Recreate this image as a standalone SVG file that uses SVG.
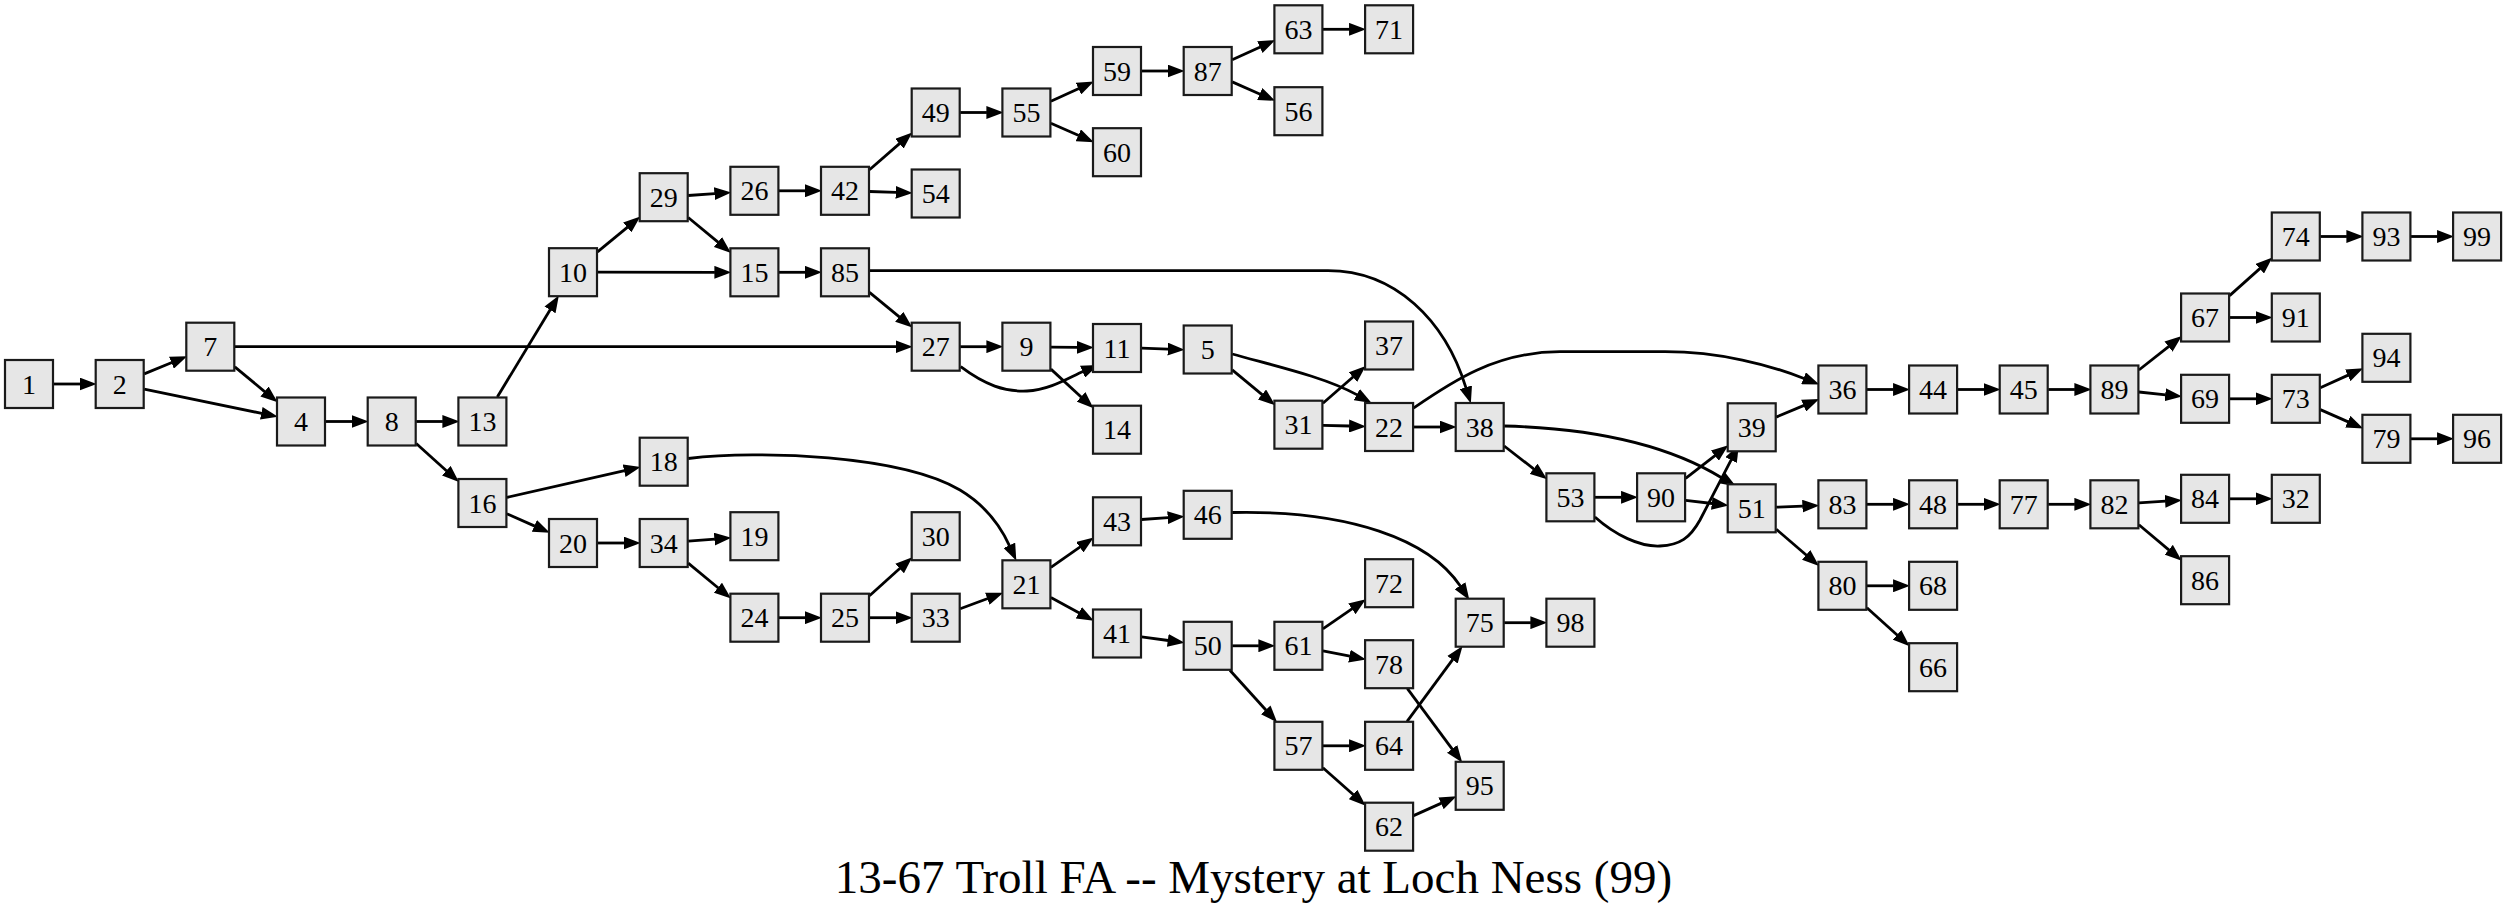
<svg xmlns="http://www.w3.org/2000/svg" width="2507" height="915" viewBox="0 0 2507 915">
<style>
.node rect{fill:#e6e6e6;stroke:#1a1a1a;stroke-width:2.2}
.node text{font-family:"Liberation Serif","Times New Roman",serif;font-size:28px;text-anchor:middle;fill:#000}
#edges path{fill:none;stroke:#000;stroke-width:2.8;marker-end:url(#ah)}
.title{font-family:"Liberation Serif","Times New Roman",serif;font-size:47px;text-anchor:middle;fill:#000}
</style>
<defs>
<marker id="ah" markerUnits="userSpaceOnUse" markerWidth="17" markerHeight="13" viewBox="0 0 16.5 12.5" refX="0.5" refY="6.25" orient="auto"><path d="M0,0 L16.5,6.25 L0,12.5 z" fill="#000"/></marker>
</defs>
<rect width="2507" height="915" fill="#fff"/>
<g id="edges">
<path d="M53.5,384 L80.2,384"/>
<path d="M144.2,373.9 L171.9,362.5"/>
<path d="M144.2,389.1 L261.8,413.4"/>
<path d="M234.8,366.9 L264.9,391.8"/>
<path d="M234.8,346.7 L896.2,346.7"/>
<path d="M325.5,421.5 L352.2,421.5"/>
<path d="M416.2,421.5 L442.9,421.5"/>
<path d="M416.2,443.5 L446.7,471"/>
<path d="M497.3,397 L550.3,309.5"/>
<path d="M597.5,251.9 L627.6,227.1"/>
<path d="M597.5,272.2 L714.9,272.3"/>
<path d="M688.2,195.5 L714.9,193.6"/>
<path d="M688.2,217.5 L718.3,242.4"/>
<path d="M778.9,190.8 L805.5,190.8"/>
<path d="M869.5,169.7 L899.8,143.4"/>
<path d="M869.5,191.5 L896.2,192.4"/>
<path d="M960.2,112.5 L986.9,112.5"/>
<path d="M1050.9,101.3 L1078.9,88.4"/>
<path d="M1050.9,123.2 L1078.8,135.5"/>
<path d="M1141.5,71 L1168.2,71"/>
<path d="M1232.2,59.7 L1260.3,46.9"/>
<path d="M1232.2,81.9 L1260.2,94.2"/>
<path d="M1322.9,29.3 L1349.6,29.3"/>
<path d="M778.9,272.3 L805.5,272.3"/>
<path d="M869.5,292.4 L899.6,317.1"/>
<path d="M869.5,270.7 L1328,270.7 C1395,270.7 1445,320 1466,387.8"/>
<path d="M960.2,346.7 L986.9,346.7"/>
<path d="M960.7,366.7 C985,385 1005,392 1027,391 C1050,390 1070,377 1083,371.5"/>
<path d="M1050.9,347.1 L1077.5,347.4"/>
<path d="M1050.9,369.1 L1081.4,397.2"/>
<path d="M1141.5,348.2 L1168.2,349.1"/>
<path d="M1232.2,354 C1275,366 1325,377 1357.2,394.9"/>
<path d="M1232.2,369.8 L1262.4,394.8"/>
<path d="M1322.9,403.3 L1353.3,376.8"/>
<path d="M1322.9,425.3 L1349.6,426"/>
<path d="M1413.6,408 C1450,383 1495,351.7 1560,351.7 L1665,351.7 C1720,351.7 1770,365 1804,378.5"/>
<path d="M1413.6,427 L1440.2,427"/>
<path d="M1504.2,446 L1534,469.1"/>
<path d="M1504.2,426 C1580,428 1660,440 1722,478"/>
<path d="M1594.9,497.3 L1621.6,497.3"/>
<path d="M1594.9,517 C1615,535 1640,547 1660,546 C1680,545 1690,538 1700,520 L1731.3,459.6"/>
<path d="M1685.6,478.4 L1715.3,455.4"/>
<path d="M1685.6,500.3 L1712.3,503.5"/>
<path d="M1776.2,417.1 L1804.1,405.4"/>
<path d="M1866.9,389.5 L1893.6,389.5"/>
<path d="M1957.6,389.5 L1984.2,389.5"/>
<path d="M2048.2,389.5 L2074.9,389.5"/>
<path d="M2138.9,370 L2168.9,346.3"/>
<path d="M2138.9,392 L2165.7,394.8"/>
<path d="M2229.6,295.6 L2260.1,268.4"/>
<path d="M2229.6,317.5 L2256.3,317.5"/>
<path d="M2320.3,236.5 L2346.9,236.5"/>
<path d="M2410.9,236.5 L2437.6,236.5"/>
<path d="M2229.6,398.8 L2256.3,398.8"/>
<path d="M2320.3,387.7 L2348.2,375.1"/>
<path d="M2320.3,409.6 L2348.2,421.9"/>
<path d="M2410.9,438.8 L2437.6,438.8"/>
<path d="M1776.2,507.2 L1802.9,506.1"/>
<path d="M1776.2,529.2 L1806.5,555.2"/>
<path d="M1866.9,504.3 L1893.6,504.3"/>
<path d="M1957.6,504.3 L1984.2,504.3"/>
<path d="M2048.2,504.3 L2074.9,504.3"/>
<path d="M2138.9,502.8 L2165.6,501.2"/>
<path d="M2138.9,524.8 L2169.1,550.1"/>
<path d="M2229.6,498.8 L2256.3,498.8"/>
<path d="M1866.9,585.8 L1893.6,585.8"/>
<path d="M1866.9,607.8 L1897.4,635.2"/>
<path d="M506.9,497.4 L624.6,470.6"/>
<path d="M506.9,513.8 L534.8,526.1"/>
<path d="M688.2,458.5 C760,450 900,455 960,490 C985,505 1000,525 1009.5,545.8"/>
<path d="M597.5,543 L624.2,543"/>
<path d="M688.2,541.2 L714.9,539.1"/>
<path d="M688.2,563.2 L718.3,588"/>
<path d="M778.9,617.7 L805.5,617.7"/>
<path d="M869.5,595.7 L900,568.2"/>
<path d="M869.5,617.7 L896.2,617.7"/>
<path d="M960.2,608.7 L987.8,598.5"/>
<path d="M1050.9,567.3 L1080.2,546.9"/>
<path d="M1050.9,597.6 L1079.3,613"/>
<path d="M1141.5,519.5 L1168.2,517.6"/>
<path d="M1141.5,636.8 L1168.3,640.5"/>
<path d="M1232.2,645.8 L1258.9,645.8"/>
<path d="M1229.9,670.3 L1266.1,710.2"/>
<path d="M1322.9,628.9 L1352.3,608.6"/>
<path d="M1322.9,650.8 L1349.9,656.2"/>
<path d="M1407.4,688.7 L1452.4,749.3"/>
<path d="M1322.9,745.8 L1349.6,745.8"/>
<path d="M1322.9,767.7 L1353.4,794.8"/>
<path d="M1407.1,721.3 L1452.8,659.3"/>
<path d="M1413.6,815.6 L1441.5,803.1"/>
<path d="M1504.2,622.7 L1530.9,622.7"/>
<path d="M1232.2,512.5 C1350,510 1430,540 1460.3,586.1"/>
</g>
<g id="n1" class="node" transform="translate(29,384)"><rect x="-24" y="-24" width="48" height="48"/><text y="9.5">1</text></g>
<g id="n2" class="node" transform="translate(119.7,384)"><rect x="-24" y="-24" width="48" height="48"/><text y="9.5">2</text></g>
<g id="n7" class="node" transform="translate(210.3,346.7)"><rect x="-24" y="-24" width="48" height="48"/><text y="9.5">7</text></g>
<g id="n4" class="node" transform="translate(301,421.5)"><rect x="-24" y="-24" width="48" height="48"/><text y="9.5">4</text></g>
<g id="n8" class="node" transform="translate(391.7,421.5)"><rect x="-24" y="-24" width="48" height="48"/><text y="9.5">8</text></g>
<g id="n13" class="node" transform="translate(482.4,421.5)"><rect x="-24" y="-24" width="48" height="48"/><text y="9.5">13</text></g>
<g id="n16" class="node" transform="translate(482.4,503)"><rect x="-24" y="-24" width="48" height="48"/><text y="9.5">16</text></g>
<g id="n10" class="node" transform="translate(573,272.2)"><rect x="-24" y="-24" width="48" height="48"/><text y="9.5">10</text></g>
<g id="n20" class="node" transform="translate(573,543)"><rect x="-24" y="-24" width="48" height="48"/><text y="9.5">20</text></g>
<g id="n29" class="node" transform="translate(663.7,197.2)"><rect x="-24" y="-24" width="48" height="48"/><text y="9.5">29</text></g>
<g id="n18" class="node" transform="translate(663.7,461.7)"><rect x="-24" y="-24" width="48" height="48"/><text y="9.5">18</text></g>
<g id="n34" class="node" transform="translate(663.7,543)"><rect x="-24" y="-24" width="48" height="48"/><text y="9.5">34</text></g>
<g id="n26" class="node" transform="translate(754.4,190.8)"><rect x="-24" y="-24" width="48" height="48"/><text y="9.5">26</text></g>
<g id="n15" class="node" transform="translate(754.4,272.3)"><rect x="-24" y="-24" width="48" height="48"/><text y="9.5">15</text></g>
<g id="n19" class="node" transform="translate(754.4,536.2)"><rect x="-24" y="-24" width="48" height="48"/><text y="9.5">19</text></g>
<g id="n24" class="node" transform="translate(754.4,617.7)"><rect x="-24" y="-24" width="48" height="48"/><text y="9.5">24</text></g>
<g id="n42" class="node" transform="translate(845,190.8)"><rect x="-24" y="-24" width="48" height="48"/><text y="9.5">42</text></g>
<g id="n85" class="node" transform="translate(845,272.3)"><rect x="-24" y="-24" width="48" height="48"/><text y="9.5">85</text></g>
<g id="n25" class="node" transform="translate(845,617.7)"><rect x="-24" y="-24" width="48" height="48"/><text y="9.5">25</text></g>
<g id="n49" class="node" transform="translate(935.7,112.5)"><rect x="-24" y="-24" width="48" height="48"/><text y="9.5">49</text></g>
<g id="n54" class="node" transform="translate(935.7,193.5)"><rect x="-24" y="-24" width="48" height="48"/><text y="9.5">54</text></g>
<g id="n27" class="node" transform="translate(935.7,346.7)"><rect x="-24" y="-24" width="48" height="48"/><text y="9.5">27</text></g>
<g id="n30" class="node" transform="translate(935.7,536.2)"><rect x="-24" y="-24" width="48" height="48"/><text y="9.5">30</text></g>
<g id="n33" class="node" transform="translate(935.7,617.7)"><rect x="-24" y="-24" width="48" height="48"/><text y="9.5">33</text></g>
<g id="n55" class="node" transform="translate(1026.4,112.5)"><rect x="-24" y="-24" width="48" height="48"/><text y="9.5">55</text></g>
<g id="n9" class="node" transform="translate(1026.4,346.7)"><rect x="-24" y="-24" width="48" height="48"/><text y="9.5">9</text></g>
<g id="n21" class="node" transform="translate(1026.4,584.3)"><rect x="-24" y="-24" width="48" height="48"/><text y="9.5">21</text></g>
<g id="n59" class="node" transform="translate(1117,71)"><rect x="-24" y="-24" width="48" height="48"/><text y="9.5">59</text></g>
<g id="n60" class="node" transform="translate(1117,152.2)"><rect x="-24" y="-24" width="48" height="48"/><text y="9.5">60</text></g>
<g id="n11" class="node" transform="translate(1117,348)"><rect x="-24" y="-24" width="48" height="48"/><text y="9.5">11</text></g>
<g id="n14" class="node" transform="translate(1117,429.7)"><rect x="-24" y="-24" width="48" height="48"/><text y="9.5">14</text></g>
<g id="n43" class="node" transform="translate(1117,521.3)"><rect x="-24" y="-24" width="48" height="48"/><text y="9.5">43</text></g>
<g id="n41" class="node" transform="translate(1117,633.5)"><rect x="-24" y="-24" width="48" height="48"/><text y="9.5">41</text></g>
<g id="n87" class="node" transform="translate(1207.7,71)"><rect x="-24" y="-24" width="48" height="48"/><text y="9.5">87</text></g>
<g id="n5" class="node" transform="translate(1207.7,349.5)"><rect x="-24" y="-24" width="48" height="48"/><text y="9.5">5</text></g>
<g id="n46" class="node" transform="translate(1207.7,514.8)"><rect x="-24" y="-24" width="48" height="48"/><text y="9.5">46</text></g>
<g id="n50" class="node" transform="translate(1207.7,645.8)"><rect x="-24" y="-24" width="48" height="48"/><text y="9.5">50</text></g>
<g id="n63" class="node" transform="translate(1298.4,29.3)"><rect x="-24" y="-24" width="48" height="48"/><text y="9.5">63</text></g>
<g id="n56" class="node" transform="translate(1298.4,111.2)"><rect x="-24" y="-24" width="48" height="48"/><text y="9.5">56</text></g>
<g id="n31" class="node" transform="translate(1298.4,424.7)"><rect x="-24" y="-24" width="48" height="48"/><text y="9.5">31</text></g>
<g id="n61" class="node" transform="translate(1298.4,645.8)"><rect x="-24" y="-24" width="48" height="48"/><text y="9.5">61</text></g>
<g id="n57" class="node" transform="translate(1298.4,745.8)"><rect x="-24" y="-24" width="48" height="48"/><text y="9.5">57</text></g>
<g id="n71" class="node" transform="translate(1389.1,29.3)"><rect x="-24" y="-24" width="48" height="48"/><text y="9.5">71</text></g>
<g id="n37" class="node" transform="translate(1389.1,345.5)"><rect x="-24" y="-24" width="48" height="48"/><text y="9.5">37</text></g>
<g id="n22" class="node" transform="translate(1389.1,427)"><rect x="-24" y="-24" width="48" height="48"/><text y="9.5">22</text></g>
<g id="n72" class="node" transform="translate(1389.1,583.2)"><rect x="-24" y="-24" width="48" height="48"/><text y="9.5">72</text></g>
<g id="n78" class="node" transform="translate(1389.1,664.2)"><rect x="-24" y="-24" width="48" height="48"/><text y="9.5">78</text></g>
<g id="n64" class="node" transform="translate(1389.1,745.8)"><rect x="-24" y="-24" width="48" height="48"/><text y="9.5">64</text></g>
<g id="n62" class="node" transform="translate(1389.1,826.7)"><rect x="-24" y="-24" width="48" height="48"/><text y="9.5">62</text></g>
<g id="n38" class="node" transform="translate(1479.7,427)"><rect x="-24" y="-24" width="48" height="48"/><text y="9.5">38</text></g>
<g id="n75" class="node" transform="translate(1479.7,622.7)"><rect x="-24" y="-24" width="48" height="48"/><text y="9.5">75</text></g>
<g id="n95" class="node" transform="translate(1479.7,785.8)"><rect x="-24" y="-24" width="48" height="48"/><text y="9.5">95</text></g>
<g id="n53" class="node" transform="translate(1570.4,497.3)"><rect x="-24" y="-24" width="48" height="48"/><text y="9.5">53</text></g>
<g id="n98" class="node" transform="translate(1570.4,622.7)"><rect x="-24" y="-24" width="48" height="48"/><text y="9.5">98</text></g>
<g id="n90" class="node" transform="translate(1661.1,497.3)"><rect x="-24" y="-24" width="48" height="48"/><text y="9.5">90</text></g>
<g id="n39" class="node" transform="translate(1751.7,427.3)"><rect x="-24" y="-24" width="48" height="48"/><text y="9.5">39</text></g>
<g id="n51" class="node" transform="translate(1751.7,508.3)"><rect x="-24" y="-24" width="48" height="48"/><text y="9.5">51</text></g>
<g id="n36" class="node" transform="translate(1842.4,389.5)"><rect x="-24" y="-24" width="48" height="48"/><text y="9.5">36</text></g>
<g id="n83" class="node" transform="translate(1842.4,504.3)"><rect x="-24" y="-24" width="48" height="48"/><text y="9.5">83</text></g>
<g id="n80" class="node" transform="translate(1842.4,585.8)"><rect x="-24" y="-24" width="48" height="48"/><text y="9.5">80</text></g>
<g id="n44" class="node" transform="translate(1933.1,389.5)"><rect x="-24" y="-24" width="48" height="48"/><text y="9.5">44</text></g>
<g id="n48" class="node" transform="translate(1933.1,504.3)"><rect x="-24" y="-24" width="48" height="48"/><text y="9.5">48</text></g>
<g id="n68" class="node" transform="translate(1933.1,585.8)"><rect x="-24" y="-24" width="48" height="48"/><text y="9.5">68</text></g>
<g id="n66" class="node" transform="translate(1933.1,667.2)"><rect x="-24" y="-24" width="48" height="48"/><text y="9.5">66</text></g>
<g id="n45" class="node" transform="translate(2023.7,389.5)"><rect x="-24" y="-24" width="48" height="48"/><text y="9.5">45</text></g>
<g id="n77" class="node" transform="translate(2023.7,504.3)"><rect x="-24" y="-24" width="48" height="48"/><text y="9.5">77</text></g>
<g id="n89" class="node" transform="translate(2114.4,389.5)"><rect x="-24" y="-24" width="48" height="48"/><text y="9.5">89</text></g>
<g id="n82" class="node" transform="translate(2114.4,504.3)"><rect x="-24" y="-24" width="48" height="48"/><text y="9.5">82</text></g>
<g id="n67" class="node" transform="translate(2205.1,317.5)"><rect x="-24" y="-24" width="48" height="48"/><text y="9.5">67</text></g>
<g id="n69" class="node" transform="translate(2205.1,398.8)"><rect x="-24" y="-24" width="48" height="48"/><text y="9.5">69</text></g>
<g id="n84" class="node" transform="translate(2205.1,498.8)"><rect x="-24" y="-24" width="48" height="48"/><text y="9.5">84</text></g>
<g id="n86" class="node" transform="translate(2205.1,580.2)"><rect x="-24" y="-24" width="48" height="48"/><text y="9.5">86</text></g>
<g id="n74" class="node" transform="translate(2295.8,236.5)"><rect x="-24" y="-24" width="48" height="48"/><text y="9.5">74</text></g>
<g id="n91" class="node" transform="translate(2295.8,317.5)"><rect x="-24" y="-24" width="48" height="48"/><text y="9.5">91</text></g>
<g id="n73" class="node" transform="translate(2295.8,398.8)"><rect x="-24" y="-24" width="48" height="48"/><text y="9.5">73</text></g>
<g id="n32" class="node" transform="translate(2295.8,498.8)"><rect x="-24" y="-24" width="48" height="48"/><text y="9.5">32</text></g>
<g id="n93" class="node" transform="translate(2386.4,236.5)"><rect x="-24" y="-24" width="48" height="48"/><text y="9.5">93</text></g>
<g id="n94" class="node" transform="translate(2386.4,357.8)"><rect x="-24" y="-24" width="48" height="48"/><text y="9.5">94</text></g>
<g id="n79" class="node" transform="translate(2386.4,438.8)"><rect x="-24" y="-24" width="48" height="48"/><text y="9.5">79</text></g>
<g id="n99" class="node" transform="translate(2477.1,236.5)"><rect x="-24" y="-24" width="48" height="48"/><text y="9.5">99</text></g>
<g id="n96" class="node" transform="translate(2477.1,438.8)"><rect x="-24" y="-24" width="48" height="48"/><text y="9.5">96</text></g>
<text class="title" x="1253.5" y="893">13-67 Troll FA -- Mystery at Loch Ness (99)</text>
</svg>
